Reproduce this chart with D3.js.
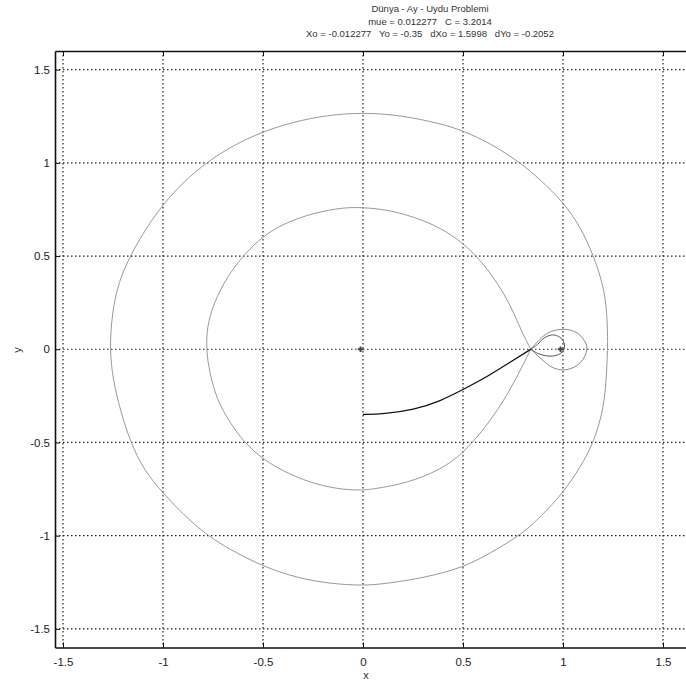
<!DOCTYPE html>
<html>
<head>
<meta charset="utf-8">
<script src="https://cdnjs.cloudflare.com/ajax/libs/d3/7.8.5/d3.min.js"></script>
<style>
  body { margin: 0; background: #fff; }
  #chart text { font-family: "Liberation Sans", Arial, sans-serif; }
</style>
</head>
<body>
<div id="chart"></div>
<script>
// title lines
let titleLines = [
  "Dünya - Ay - Uydu Problemi",
  "mue = 0.012277   C = 3.2014",
  "Xo = -0.012277   Yo = -0.35   dXo = 1.5998   dYo = -0.2052"
];

let xTicks = [-1.5, -1, -0.5, 0, 0.5, 1, 1.5];
let yTicks = [-1.5, -1, -0.5, 0, 0.5, 1, 1.5];

// dark part: from start point to the crossing near the moon
let darkX = [0, 0.103, 0.254, 0.388, 0.504, 0.622, 0.738, 0.839];
let darkY = [-0.35, -0.347, -0.325, -0.278, -0.214, -0.147, -0.068, 0];

// big outer loop (closed)
let outerX = [1.223, 1.223, 1.218, 1.198, 1.154, 1.087, 1.0, 0.889, 0.789, 0.638, 0.504, 0.388, 0.187, 0,
  -0.18, -0.347, -0.505, -0.647, -0.78, -0.897, -0.997, -1.08, -1.163, -1.222, -1.255, -1.267,
  -1.25, -1.214, -1.164, -1.097, -1.0, -0.897, -0.789, -0.664, -0.5, -0.33, -0.164, 0,
  0.103, 0.304, 0.504, 0.638, 0.797, 0.889, 1.0, 1.089, 1.156, 1.206, 1.218];
let outerY = [0, 0.086, 0.228, 0.354, 0.5, 0.657, 0.791, 0.907, 1.0, 1.104, 1.171, 1.211, 1.256, 1.27,
  1.256, 1.22, 1.166, 1.095, 1.005, 0.898, 0.782, 0.657, 0.505, 0.362, 0.193, 0,
  -0.165, -0.325, -0.495, -0.647, -0.772, -0.888, -0.991, -1.076, -1.165, -1.227, -1.258, -1.268,
  -1.259, -1.227, -1.17, -1.093, -0.991, -0.897, -0.772, -0.629, -0.495, -0.308, -0.129];

// inner loop, leaves and comes back to the crossing
let innerX = [0.839, 0.797, 0.755, 0.705, 0.638, 0.571, 0.504, 0.421, 0.304, 0.137, 0, -0.097, -0.247,
  -0.397, -0.505, -0.597, -0.68, -0.747, -0.78, -0.784, -0.767, -0.73, -0.664, -0.597, -0.5,
  -0.364, -0.23, -0.097, 0, 0.053, 0.221, 0.388, 0.513, 0.655, 0.755, 0.839];
let innerY = [0, 0.086, 0.193, 0.3, 0.407, 0.496, 0.564, 0.63, 0.693, 0.747, 0.761, 0.761, 0.732,
  0.675, 0.603, 0.505, 0.389, 0.246, 0.121, 0, -0.129, -0.272, -0.397, -0.495, -0.593,
  -0.674, -0.727, -0.754, -0.756, -0.75, -0.718, -0.647, -0.549, -0.361, -0.182, 0];

// loops round the moon
let moonLoopX = [0.839, 0.922, 1.006, 1.073, 1.114, 1.119, 1.098, 1.056, 0.997, 0.939, 0.897, 0.864, 0.839];
let moonLoopY = [0, 0.086, 0.107, 0.086, 0.032, -0.004, -0.057, -0.096, -0.111, -0.093, -0.057, -0.025, 0];
let smallLoopX = [0.839, 0.872, 0.905, 0.947, 0.985, 1.006, 1.003, 0.972, 0.922, 0.872, 0.839];
let smallLoopY = [0, 0.025, 0.06, 0.077, 0.064, 0.032, -0.004, -0.031, -0.036, -0.021, 0];

// earth and moon positions
let bodyX = [-0.012277, 0.987723];
let bodyY = [0, 0];

const width = 686, height = 684;
const mLeft = 55, mRight = 691, mTop = 51, mBottom = 647.5;

let svg = d3.select("#chart").append("svg")
  .attr("width", width)
  .attr("height", height);

let x = d3.scaleLinear().domain([-1.54, 1.64]).range([mLeft, mRight]);
let y = d3.scaleLinear().domain([-1.6, 1.6]).range([mBottom, mTop]);

// grid
svg.append("g").selectAll("line").data(xTicks).enter().append("line")
  .attr("x1", d => x(d)).attr("x2", d => x(d))
  .attr("y1", mTop).attr("y2", mBottom)
  .attr("stroke", "#222").attr("stroke-width", 1.2)
  .attr("stroke-dasharray", "1.5,2.5");
svg.append("g").selectAll("line").data(yTicks).enter().append("line")
  .attr("x1", mLeft).attr("x2", mRight)
  .attr("y1", d => y(d)).attr("y2", d => y(d))
  .attr("stroke", "#222").attr("stroke-width", 1.2)
  .attr("stroke-dasharray", "1.5,2.5");

// axes, ticks inward like matlab, plain hyphen for negatives
let fmt = d => String(d);
let xAxis = svg.append("g")
  .attr("transform", "translate(0," + mBottom + ")")
  .call(d3.axisBottom(x).tickValues(xTicks).tickSizeInner(-5).tickSizeOuter(0).tickPadding(10)
    .tickFormat(fmt));
let yAxis = svg.append("g")
  .attr("transform", "translate(" + mLeft + ",0)")
  .call(d3.axisLeft(y).tickValues(yTicks).tickSizeInner(-5).tickSizeOuter(0).tickPadding(5)
    .tickFormat(fmt));
let xTop = svg.append("g")
  .attr("transform", "translate(0," + mTop + ")")
  .call(d3.axisTop(x).tickValues(xTicks).tickSizeInner(-5).tickSizeOuter(0).tickFormat(""));

[xAxis, yAxis, xTop].forEach(function(a) {
  a.select(".domain").attr("stroke", "#111").attr("stroke-width", 1.6);
  a.selectAll(".tick line").attr("stroke", "#111");
  a.selectAll(".tick text").attr("font-size", 11.5).attr("fill", "#222");
});

// trajectory
function pts(xs, ys) {
  return xs.map((v, i) => [v, ys[i]]);
}
let lineOf = curve => d3.line().x(d => x(d[0])).y(d => y(d[1])).curve(curve);

svg.append("path")
  .attr("d", lineOf(d3.curveBasisClosed)(pts(outerX, outerY)))
  .attr("fill", "none").attr("stroke", "#999").attr("stroke-width", 1);
svg.append("path")
  .attr("d", lineOf(d3.curveBasis)(pts(innerX, innerY)))
  .attr("fill", "none").attr("stroke", "#999").attr("stroke-width", 1);
svg.append("path")
  .attr("d", lineOf(d3.curveCatmullRom)(pts(moonLoopX, moonLoopY)))
  .attr("fill", "none").attr("stroke", "#888").attr("stroke-width", 1);
svg.append("path")
  .attr("d", lineOf(d3.curveCatmullRom)(pts(smallLoopX, smallLoopY)))
  .attr("fill", "none").attr("stroke", "#555").attr("stroke-width", 1);
svg.append("path")
  .attr("d", lineOf(d3.curveBasis)(pts(darkX, darkY)))
  .attr("fill", "none").attr("stroke", "#111").attr("stroke-width", 1.3);

// earth / moon markers
svg.append("g").selectAll("path").data(pts(bodyX, bodyY)).enter().append("path")
  .attr("transform", d => "translate(" + x(d[0]) + "," + y(d[1]) + ")")
  .attr("d", d3.symbol().type(d3.symbolCross).size(18))
  .attr("fill", "#444");

// title and labels
svg.append("g").selectAll("text").data(titleLines).enter().append("text")
  .attr("x", 430)
  .attr("y", (d, i) => 12 + i * 12.5)
  .attr("text-anchor", "middle")
  .attr("font-size", 9.5)
  .attr("fill", "#333")
  .style("white-space", "pre")
  .text(d => d);

svg.append("text")
  .attr("x", 366).attr("y", 679)
  .attr("text-anchor", "middle")
  .attr("font-size", 11).attr("fill", "#333")
  .text("x");

svg.append("text")
  .attr("transform", "translate(21,350) rotate(-90)")
  .attr("text-anchor", "middle")
  .attr("font-size", 11).attr("fill", "#333")
  .text("y");
</script>
</body>
</html>
